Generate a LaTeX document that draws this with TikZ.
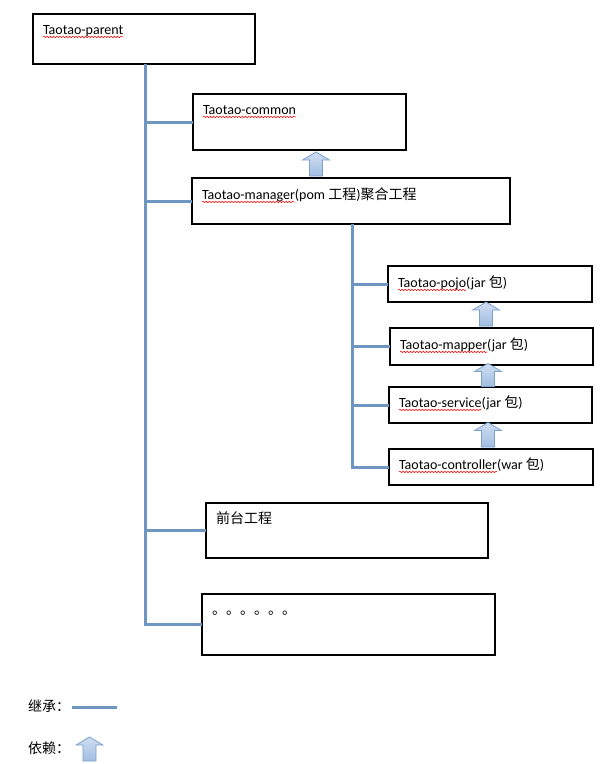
\documentclass[tikz,border=0pt]{standalone}
\usepackage{fontspec}
\setmainfont{Carlito}
\newfontfamily\cjk{Noto Sans CJK SC}
\usetikzlibrary{calc,decorations.pathmorphing}
\definecolor{inhblue}{RGB}{111,150,195}
\definecolor{arrfillA}{RGB}{208,222,241}
\definecolor{arrfillB}{RGB}{160,189,226}
\definecolor{arrline}{RGB}{125,160,202}
\tikzset{
  box/.style={draw=black, line width=0.8pt, inner sep=0pt, outer sep=0pt, anchor=north west},
  lbl/.style={anchor=base west, inner sep=0pt, outer sep=0pt, font=\fontsize{10.5}{12}\selectfont},
  inh/.style={draw=inhblue, line width=2.25pt},
  wave/.style={draw=red, line width=0.4pt, decorate, decoration={snake, amplitude=0.55pt, segment length=2.4pt}},
  deparr/.style={top color=arrfillA, bottom color=arrfillB, draw=arrline, line width=0.6pt, line join=miter}
}
% name, left, top, right, bottom (pixels)
\newcommand\mkbox[5]{%
  \node[box, minimum width={(#4-#2)*0.75pt}, minimum height={(#5-#3)*0.75pt}] (#1) at (#2,#3) {};}
% block arrow from bottom point #1 up to top point #2
\newcommand\deparrow[2]{%
  \shade[deparr] let \p1=(#1), \p2=(#2) in
    (\x1-4.9pt,\y1) -- (\x1-4.9pt,\y2-6pt) -- (\x1-10pt,\y2-6pt) -- (\x1,\y2)
    -- (\x1+10pt,\y2-6pt) -- (\x1+4.9pt,\y2-6pt) -- (\x1+4.9pt,\y1) -- cycle;}
\begin{document}
\begin{tikzpicture}[x=0.75pt, y=-0.75pt]
\useasboundingbox (0,0) rectangle (614,764);
\fill[white] (0,0) rectangle (614,764);

% boxes
\mkbox{parent}{33}{14}{255}{64}
\mkbox{common}{193}{94}{406}{150}
\mkbox{mgr}{192}{178}{510}{224}
\mkbox{pojo}{388}{266}{592}{302}
\mkbox{mapper}{390}{328}{593}{365}
\mkbox{service}{389}{387}{592}{423}
\mkbox{ctrl}{389}{449}{593}{485}
\mkbox{front}{206}{503}{488}{558}
\mkbox{dots}{202}{594}{495}{655}

% labels
\node[lbl] (parent-t) at ($(parent.north west)+(10,20)$) {Taotao-parent};
\node[lbl] (common-t) at ($(common.north west)+(10,20)$) {Taotao-common};
\node[lbl] (mgr-t) at ($(mgr.north west)+(10,21)$) {Taotao-manager};
\node[lbl] (mgr-r) at (mgr-t.base east) {(pom {\cjk 工程})\cjk 聚合工程};
\node[lbl] (pojo-t) at ($(pojo.north west)+(10,21)$) {Taotao-pojo};
\node[lbl] (pojo-r) at (pojo-t.base east) {(jar {\cjk 包})};
\node[lbl] (mapper-t) at ($(mapper.north west)+(10,21)$) {Taotao-mapper};
\node[lbl] (mapper-r) at (mapper-t.base east) {(jar {\cjk 包})};
\node[lbl] (service-t) at ($(service.north west)+(10,20)$) {Taotao-service};
\node[lbl] (service-r) at (service-t.base east) {(jar {\cjk 包})};
\node[lbl] (ctrl-t) at ($(ctrl.north west)+(10,20)$) {Taotao-controller};
\node[lbl] (ctrl-r) at (ctrl-t.base east) {(war {\cjk 包})};
\node[lbl] (front-t) at ($(front.north west)+(10,20)$) {\cjk 前台工程};
\node[lbl] (dots-t) at ($(dots.north west)+(10,20)$) {\cjk 。。。。。。};

% spell-check wavy underlines
\foreach \n in {parent-t,common-t,mgr-t,pojo-t,mapper-t,service-t,ctrl-t}
  \draw[wave] ([yshift=-2.2pt]\n.base west) -- ([yshift=-2.2pt]\n.base east);

% inheritance lines
\coordinate (t1) at (145,0);
\draw[inh] (t1 |- parent.south) |- (dots.west);
\draw[inh] (t1 |- common.west) -- (common.west);
\draw[inh] (t1 |- mgr.west) -- (mgr.west);
\draw[inh] (t1 |- front.west) -- (front.west);

\coordinate (t2) at (352,0);
\draw[inh] (t2 |- mgr.south) |- (ctrl.west);
\draw[inh] (t2 |- pojo.west) -- (pojo.west);
\draw[inh] (t2 |- mapper.west) -- (mapper.west);
\draw[inh] (t2 |- service.west) -- (service.west);

% dependency arrows
\deparrow{$(316,0 |- mgr.north)+(0,-2)$}{$(316,0 |- common.south)+(0,2)$}
\deparrow{$(486,0 |- mapper.north)+(0,-2)$}{$(486,0 |- pojo.south)+(0,0)$}
\deparrow{$(488,0 |- service.north)+(0,-0.5)$}{$(488,0 |- mapper.south)+(0,-1.5)$}
\deparrow{$(488,0 |- ctrl.north)+(0,-2)$}{$(488,0 |- service.south)+(0,-0.5)$}

% legend
\node[lbl] (leg1) at (28,711) {\cjk 继承：};
\coordinate (l1a) at (72,707);
\coordinate (l1b) at (117,707);
\draw[inh] (l1a) -- (l1b);
\node[lbl] (leg2) at (28,753) {\cjk 依赖：};
\coordinate (l2a) at (89.5,761);
\coordinate (l2b) at (89.5,737);
\deparrow{l2a}{l2b}
\end{tikzpicture}
\end{document}
